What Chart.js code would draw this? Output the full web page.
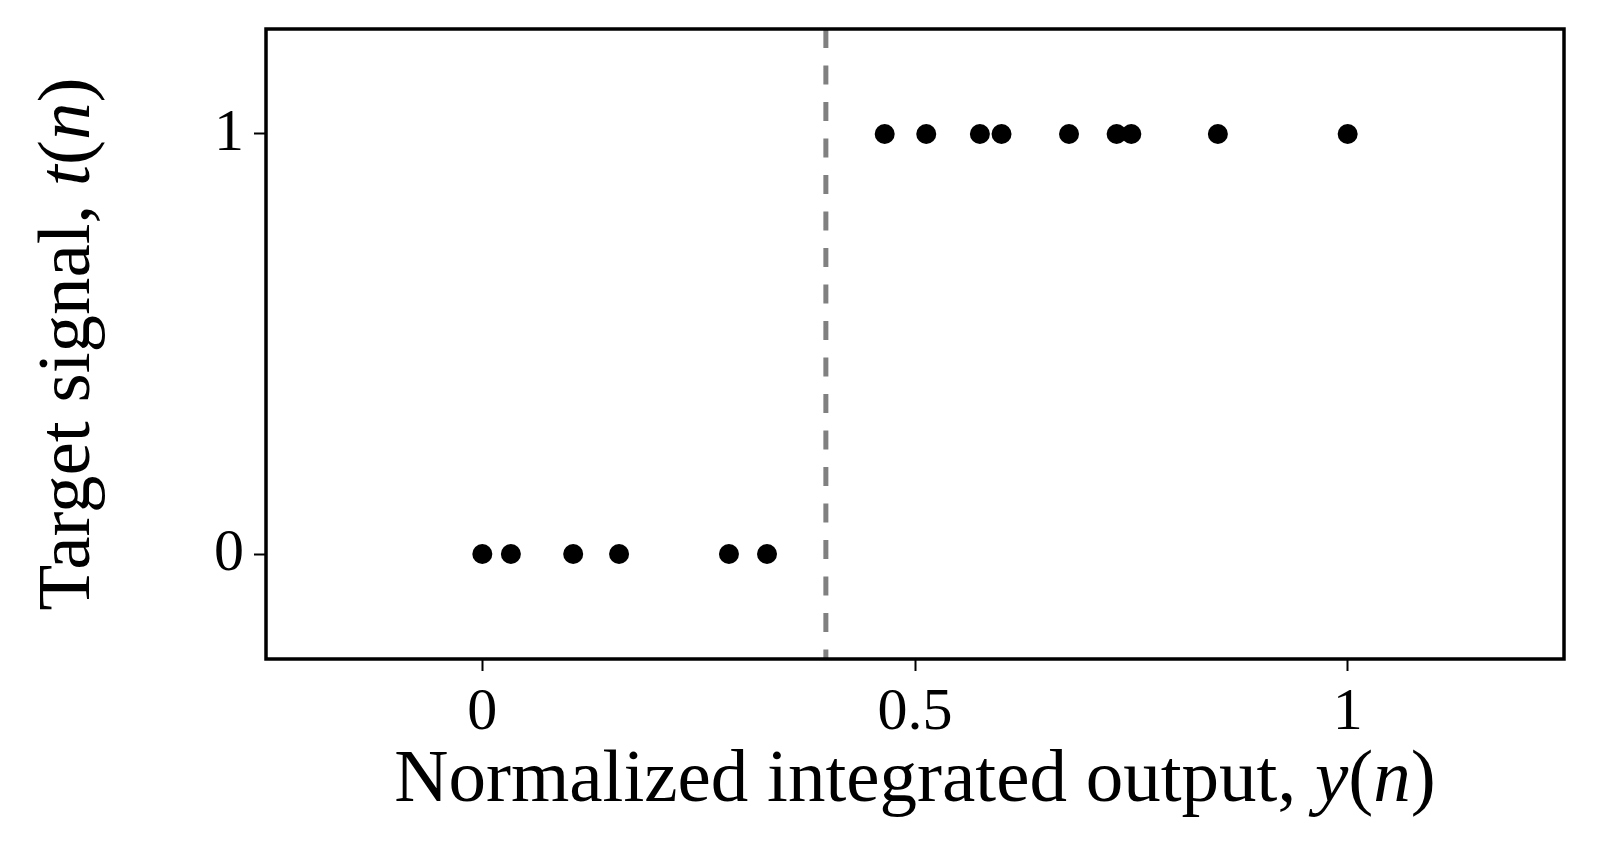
<!DOCTYPE html>
<html>
<head>
<meta charset="utf-8">
<script src="https://cdn.jsdelivr.net/npm/chart.js@4/dist/chart.umd.min.js"></script>
<style>
  html, body { margin: 0; padding: 0; background: #fff; }
  #wrap { width: 1602px; height: 843px; position: relative; }
</style>
</head>
<body>
<div id="wrap"><canvas id="chart"></canvas></div>
<script>
'use strict';

/*--- data --*/
var classZeroX = [0.000, 0.033, 0.105, 0.158, 0.285, 0.329];
var classOneX = [0.465, 0.513, 0.575, 0.600, 0.678, 0.733, 0.750, 0.850, 1.000];
var threshold = 0.397;
var xTicks = [0, 0.5, 1];
var xTickLabels = ['0', '0.5', '1'];
var yTicks = [0, 1];
var yTickLabels = ['0', '1'];
var xRange = [-0.25, 1.25];
var yRange = [-0.25, 1.25];

var serif = "'Liberation Serif', 'Times New Roman', serif";

/*--- axis titles with italic parts --*/
var xTitle = [['Normalized integrated output, ', false], ['y', true], ['(', false], ['n', true], [')', false]];
var yTitle = [['Target signal, ', false], ['t', true], ['(', false], ['n', true], [')', false]];

function drawParts(ctx, parts, size) {
  var total = 0;
  parts.forEach(function (p) {
    ctx.font = (p[1] ? 'italic ' : '') + size + 'px ' + serif;
    total += ctx.measureText(p[0]).width;
  });
  var x = -total / 2;
  parts.forEach(function (p) {
    ctx.font = (p[1] ? 'italic ' : '') + size + 'px ' + serif;
    ctx.fillText(p[0], x, 0);
    x += ctx.measureText(p[0]).width;
  });
}

var framePlugin = {
  id: 'frame',
  afterDraw: function (chart) {
    var ctx = chart.ctx;
    var a = chart.chartArea;
    ctx.save();
    ctx.strokeStyle = '#000';
    ctx.lineWidth = 3.5;
    ctx.strokeRect(a.left, a.top, a.right - a.left, a.bottom - a.top);

    ctx.fillStyle = '#000';
    ctx.textBaseline = 'alphabetic';
    ctx.textAlign = 'left';
    ctx.save();
    ctx.translate((a.left + a.right) / 2, 801);
    drawParts(ctx, xTitle, 75);
    ctx.restore();

    ctx.save();
    ctx.translate(89, (a.top + a.bottom) / 2);
    ctx.rotate(-Math.PI / 2);
    drawParts(ctx, yTitle, 75);
    ctx.restore();
    ctx.restore();
  }
};

function fixedTicks(values) {
  return function (scale) {
    scale.ticks = values.map(function (v) { return { value: v }; });
  };
}

new Chart(document.getElementById('chart'), {
  type: 'scatter',
  data: {
    datasets: [
      {
        label: 'threshold',
        data: [{ x: threshold, y: yRange[1] }, { x: threshold, y: yRange[0] }],
        showLine: true,
        borderColor: '#808080',
        borderWidth: 5,
        borderDash: [19, 17.5],
        pointRadius: 0
      },
      {
        label: 't = 0',
        data: classZeroX.map(function (v) { return { x: v, y: 0 }; }),
        backgroundColor: '#000',
        borderWidth: 0,
        pointRadius: 10
      },
      {
        label: 't = 1',
        data: classOneX.map(function (v) { return { x: v, y: 1 }; }),
        backgroundColor: '#000',
        borderWidth: 0,
        pointRadius: 10
      }
    ]
  },
  options: {
    responsive: true,
    maintainAspectRatio: false,
    animation: false,
    layout: { padding: { left: 0, top: 29, right: 38, bottom: 0 } },
    plugins: {
      legend: { display: false },
      tooltip: { enabled: false }
    },
    scales: {
      x: {
        type: 'linear',
        min: xRange[0],
        max: xRange[1],
        afterBuildTicks: fixedTicks(xTicks),
        afterFit: function (scale) {
          scale.height = 184;
          scale.paddingLeft = 0;
          scale.paddingRight = 0;
        },
        ticks: {
          color: '#000',
          font: { family: serif, size: 60 },
          padding: 6,
          maxRotation: 0,
          autoSkip: false,
          callback: function (v) {
            var i = xTicks.indexOf(v);
            return i >= 0 ? xTickLabels[i] : '';
          }
        },
        grid: {
          drawOnChartArea: false,
          drawTicks: true,
          tickLength: 12,
          tickWidth: 2,
          tickColor: '#000'
        },
        border: { display: false }
      },
      y: {
        type: 'linear',
        min: yRange[0],
        max: yRange[1],
        afterBuildTicks: fixedTicks(yTicks),
        afterFit: function (scale) {
          scale.width = 266;
          scale.paddingTop = 0;
          scale.paddingBottom = 0;
        },
        ticks: {
          color: '#000',
          font: { family: serif, size: 60 },
          padding: 10,
          autoSkip: false,
          callback: function (v) {
            var i = yTicks.indexOf(v);
            return i >= 0 ? yTickLabels[i] : '';
          }
        },
        grid: {
          drawOnChartArea: false,
          drawTicks: true,
          tickLength: 12,
          tickWidth: 2,
          tickColor: '#000'
        },
        border: { display: false }
      }
    }
  },
  plugins: [framePlugin]
});
</script>
</body>
</html>
